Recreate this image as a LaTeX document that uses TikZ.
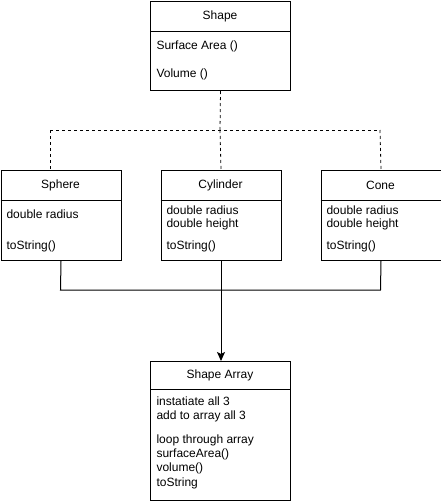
\documentclass[tikz,border=0pt]{standalone}
\usepackage{fontspec}
\setmainfont{Liberation Sans}
\usetikzlibrary{arrows.meta}
\begin{document}
\begin{tikzpicture}[x=1pt,y=-1pt,line width=1pt,
  box/.style={draw=black,fill=white,rectangle,inner sep=0pt,anchor=north west},
  hdr/.style={font=\fontsize{12}{14}\selectfont,anchor=center,inner sep=0pt},
  txt/.style={font=\fontsize{12}{14}\selectfont,anchor=base west,inner sep=0pt},
  dline/.style={dashed,dash pattern=on 3pt off 3pt,line width=0.8pt},
  conn/.style={line width=1pt}]
\useasboundingbox (0,0) rectangle (441,501);
\fill[white] (0,0) rectangle (441,501);
% boxes
\node[box,minimum width=140pt,minimum height=89pt] (shape) at (150,1) {};
\node[box,minimum width=120pt,minimum height=90pt] (sphere) at (0.5,170) {};
\node[box,minimum width=120pt,minimum height=90pt] (cyl) at (160.5,170) {};
\node[box,minimum width=120pt,minimum height=90pt] (cone) at (320.5,170) {};
\node[box,minimum width=140pt,minimum height=139pt] (arr) at (150,361) {};
% header separators
\draw (150,31) -- (290,31);
\draw (0.5,200.5) -- (120.5,200.5);
\draw (160.5,200.5) -- (280.5,200.5);
\draw (320.5,200.5) -- (440.5,200.5);
\draw (150,389) -- (290,389);
% headers
\node[hdr] (shapeT) at (220,16) {Shape};
\node[hdr] (sphereT) at (60.5,185.5) {Sphere};
\node[hdr] (cylT) at (220.5,185.5) {Cylinder};
\node[hdr] (coneT) at (380.5,185.5) {Cone};
\node[hdr] (arrT) at (220,375.5) {Shape Array};
% texts
\node[txt] (s1) at (156,49) {Surface Area ()};
\node[txt] (s2) at (156,77) {Volume ()};
\node[txt] (sp1) at (6,218) {double radius};
\node[txt] (sp2) at (6,249) {toString()};
\node[txt] (cy1) at (166,214) {double radius};
\node[txt] (cy2) at (166,227) {double height};
\node[txt] (cy3) at (166,249) {toString()};
\node[txt] (co1) at (326,214) {double radius};
\node[txt] (co2) at (326,227) {double height};
\node[txt] (co3) at (326,249) {toString()};
\node[txt] (a1) at (156,405) {instatiate all 3};
\node[txt] (a2) at (156,419) {add to array all 3};
\node[txt] (a3) at (156,443) {loop through array};
\node[txt] (a4) at (156,457) {surfaceArea()};
\node[txt] (a5) at (156,471) {volume()};
\node[txt] (a6) at (156,486) {toString};
% dashed inheritance
\coordinate (j) at (220,130);
\coordinate (jl) at (50,130);
\coordinate (jr) at (380,130);
\draw[dline] (shape.south) -- (j);
\draw[dline] (jl) -- (jr);
\draw[dline] (jl) -- (jl |- sphere.north);
\draw[dline] (j) -- (cyl.north);
\draw[dline] (jr) -- (cone.north);
% solid connectors
\coordinate (bl) at (60.5,290);
\coordinate (br) at (380.5,290);
\draw[conn] (sphere.south) -- (bl) -- (br) -- (cone.south);
\draw[conn,-{Stealth[length=9pt,width=8pt,inset=2pt]}] (cyl.south) -- (cyl.south |- arr.north);
\end{tikzpicture}
\end{document}
